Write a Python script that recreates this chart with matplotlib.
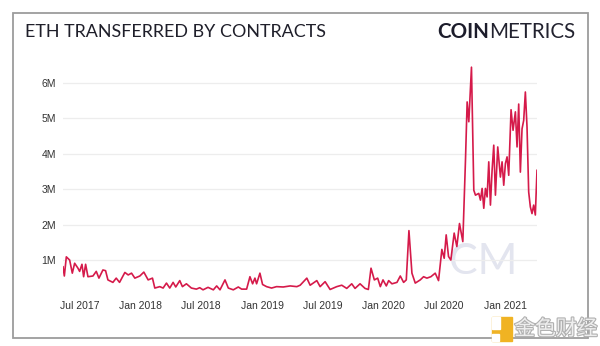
import matplotlib
matplotlib.use("Agg")
import matplotlib.pyplot as plt
import matplotlib.dates as mdates
import matplotlib.patches as patches
import matplotlib.patheffects as pe
import pandas as pd

dates = [
    "2017-05-12", "2017-05-16", "2017-05-22", "2017-06-01", "2017-06-09", "2017-06-16", "2017-06-26",
    "2017-07-01", "2017-07-08", "2017-07-13", "2017-07-19", "2017-07-26", "2017-08-10", "2017-08-20",
    "2017-08-28", "2017-09-09", "2017-09-17", "2017-09-24", "2017-10-09", "2017-10-19", "2017-10-29",
    "2017-11-14", "2017-11-24", "2017-12-04", "2017-12-14", "2017-12-29", "2018-01-10", "2018-01-23",
    "2018-02-05", "2018-02-12", "2018-02-27", "2018-03-09", "2018-03-19", "2018-03-29", "2018-04-08",
    "2018-04-16", "2018-04-28", "2018-05-06", "2018-05-18", "2018-06-02", "2018-06-17", "2018-06-27",
    "2018-07-07", "2018-07-22", "2018-08-07", "2018-08-17", "2018-08-27", "2018-09-11", "2018-09-21",
    "2018-10-06", "2018-10-21", "2018-10-31", "2018-11-15", "2018-11-25", "2018-12-03", "2018-12-10",
    "2018-12-15", "2018-12-25", "2019-01-02", "2019-01-14", "2019-01-29", "2019-02-13", "2019-03-05",
    "2019-03-26", "2019-04-15", "2019-04-25", "2019-05-15", "2019-05-25", "2019-06-14", "2019-06-24",
    "2019-07-09", "2019-07-24", "2019-08-13", "2019-08-28", "2019-09-12", "2019-09-27", "2019-10-07",
    "2019-10-22", "2019-11-06", "2019-11-16", "2019-11-24", "2019-12-04", "2019-12-14", "2019-12-22",
    "2019-12-30", "2020-01-09", "2020-01-16", "2020-01-26", "2020-02-10", "2020-02-20", "2020-03-01",
    "2020-03-09", "2020-03-17", "2020-03-26", "2020-04-05", "2020-04-20", "2020-04-30", "2020-05-10",
    "2020-05-22", "2020-06-04", "2020-06-14", "2020-06-24", "2020-07-01", "2020-07-07", "2020-07-14",
    "2020-07-21", "2020-07-31", "2020-08-08", "2020-08-16", "2020-08-26", "2020-09-03", "2020-09-08",
    "2020-09-13", "2020-09-21", "2020-09-28", "2020-10-03", "2020-10-13", "2020-10-18", "2020-10-23",
    "2020-10-28", "2020-11-02", "2020-11-07", "2020-11-12", "2020-11-17", "2020-11-22", "2020-11-27",
    "2020-12-02", "2020-12-09", "2020-12-17", "2020-12-22", "2020-12-27", "2021-01-01", "2021-01-06",
    "2021-01-11", "2021-01-18", "2021-01-24", "2021-01-31", "2021-02-05", "2021-02-10", "2021-02-15",
    "2021-02-20", "2021-02-25", "2021-03-02", "2021-03-07", "2021-03-12", "2021-03-17", "2021-03-22",
    "2021-03-27", "2021-04-01", "2021-04-06",
]
eth_millions = [
    0.81, 0.55, 1.09, 1.00, 0.63, 0.91, 0.77,
    0.68, 0.88, 0.53, 0.88, 0.53, 0.55, 0.68,
    0.49, 0.72, 0.70, 0.44, 0.37, 0.49, 0.37,
    0.65, 0.58, 0.63, 0.49, 0.55, 0.66, 0.44,
    0.49, 0.21, 0.25, 0.21, 0.35, 0.21, 0.37,
    0.24, 0.42, 0.25, 0.33, 0.21, 0.18, 0.22,
    0.16, 0.23, 0.16, 0.27, 0.16, 0.44, 0.21,
    0.16, 0.24, 0.18, 0.18, 0.53, 0.33, 0.49,
    0.33, 0.63, 0.31, 0.25, 0.21, 0.25, 0.24,
    0.27, 0.25, 0.29, 0.49, 0.29, 0.42, 0.25,
    0.39, 0.17, 0.25, 0.29, 0.20, 0.33, 0.20,
    0.33, 0.20, 0.17, 0.77, 0.44, 0.49, 0.25,
    0.44, 0.27, 0.42, 0.33, 0.37, 0.55, 0.37,
    0.44, 1.83, 0.63, 0.35, 0.44, 0.53, 0.49,
    0.53, 0.63, 0.42, 1.30, 1.05, 1.71, 1.10,
    1.00, 1.76, 1.38, 2.03, 1.52, 3.82, 5.46,
    4.90, 6.44, 2.97, 2.83, 2.88, 2.69, 3.02,
    2.46, 3.02, 2.78, 3.77, 2.55, 3.53, 4.24,
    2.83, 4.19, 3.34, 3.77, 3.11, 3.72, 3.91,
    3.39, 5.24, 4.66, 5.18, 4.19, 5.40, 3.48,
    4.70, 4.94, 5.74, 4.75, 2.92, 2.50, 2.31,
    2.55, 2.27, 3.53,
]
y_ticks = [1, 2, 3, 4, 5, 6]
y_tick_labels = ["1M", "2M", "3M", "4M", "5M", "6M"]

W, H = 600, 346
fig = plt.figure(figsize=(W / 100, H / 100), dpi=100)
fig.patch.set_facecolor("white")

def fx(px):
    return px / W

def fy(py):
    return 1 - py / H

# outer frame
fig.patches.append(patches.Rectangle((fx(12.5), fy(338)), fx(588) - fx(12.5), fy(13) - fy(338),
                                     transform=fig.transFigure, fill=False,
                                     edgecolor="#9c9c9c", linewidth=1.3, zorder=0))

ax = fig.add_axes([fx(63), fy(295.5), fx(537) - fx(63), fy(61.5) - fy(295.5)])
x = pd.to_datetime(dates)

# CM watermark
ax.text(pd.Timestamp("2020-10-25"), 0.95, "CM", fontsize=31, color="#e3e5ef",
        ha="center", va="center", family="Lato", zorder=0)

ax.plot(x, eth_millions, color="#d51a4a", linewidth=1.2, zorder=3)
ax.set_xlim(x[0], x[-1])
ax.set_ylim(0, 6.6)
ax.set_yticks(y_ticks)
ax.set_yticklabels(y_tick_labels)
ax.grid(axis="y", color="#ededed", linewidth=0.9)
ax.set_axisbelow(True)
for s in ax.spines.values():
    s.set_visible(False)
ax.xaxis.set_major_locator(mdates.MonthLocator(bymonth=[1, 7]))
ax.xaxis.set_major_formatter(mdates.DateFormatter("%b %Y"))
ax.tick_params(axis="both", length=0, labelsize=7.5, colors="#333333")
ax.tick_params(axis="y", pad=5)
ax.tick_params(axis="x", pad=4)
for lab in ax.get_xticklabels() + ax.get_yticklabels():
    lab.set_family("Liberation Sans")

fig.text(fx(25), fy(32), "ETH TRANSFERRED BY CONTRACTS", fontsize=12.9, color="#1f1f2a",
         ha="left", va="center", family="Lato")
t1 = fig.text(fx(437), fy(32), "COIN", fontsize=14.8, color="#1c1c2b", fontweight="bold",
              ha="left", va="center", family="Lato")
fig.canvas.draw()
bb = t1.get_window_extent()
fig.text(bb.x1 / W, fy(32), "METRICS", fontsize=14.8, color="#22222f", fontweight="normal",
         ha="left", va="center", family="Lato")

# repost watermark
fig.patches.append(patches.Rectangle((fx(492), fy(341)), fx(20), fy(317) - fy(341),
                                     transform=fig.transFigure, color="#f0b323", zorder=5))
fig.patches.append(patches.Rectangle((fx(492), fy(341)), fx(7), fy(334) - fy(341),
                                     transform=fig.transFigure, color="#ffffff", zorder=6))
fig.patches.append(patches.Rectangle((fx(492), fy(329)), fx(8), fy(317) - fy(329),
                                     transform=fig.transFigure, color="#ffffff", zorder=6))
fig.text(fx(556), fy(329), "金色财经", fontsize=15, color="#eeeeee", ha="center", va="center",
         family=["Noto Sans CJK SC", "DejaVu Sans"], zorder=7,
         path_effects=[pe.withStroke(linewidth=1.6, foreground="#b0b0b0")])

fig.savefig("out.png", dpi=100)
